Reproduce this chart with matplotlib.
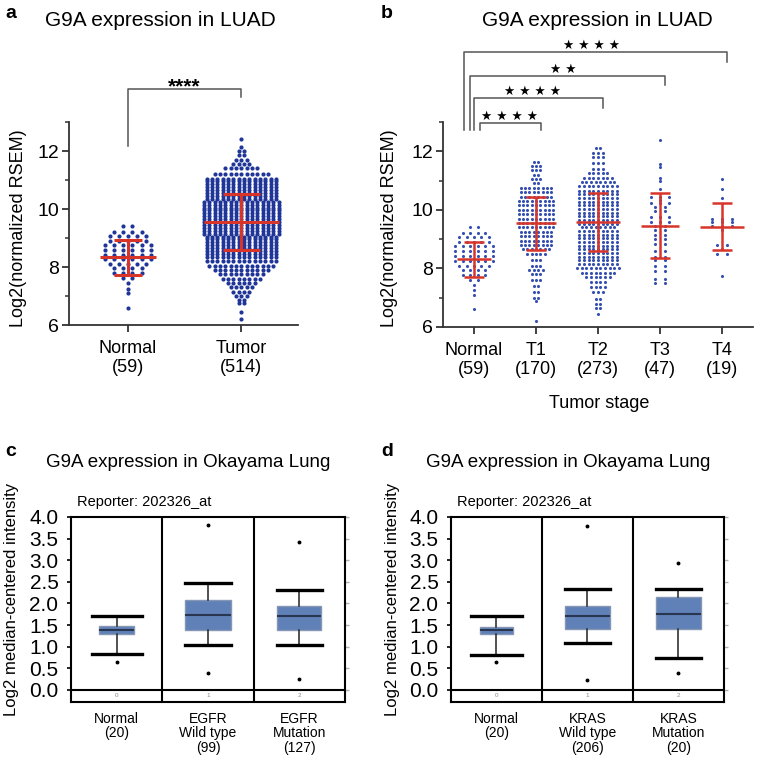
import numpy as np
import matplotlib.pyplot as plt
from matplotlib.ticker import MultipleLocator

plt.rcParams['font.family'] = ['Liberation Sans', 'DejaVu Sans']

W, H = 757, 762

# ---------------- panel a / b : LUAD (rows of dots: level -> count) ----------------
normal_levels = [9.40, 9.22, 9.07, 8.90, 8.75, 8.58, 8.42, 8.27, 8.10, 7.95, 7.78, 7.62, 7.45, 7.25, 7.10, 6.60]
normal_counts = [2, 4, 5, 5, 6, 6, 6, 6, 5, 4, 4, 2, 1, 1, 1, 1]

tumor_levels = [6.20, 6.45, 6.75, 6.85, 7.00, 7.15, 7.30, 7.45, 7.60, 7.75, 7.90, 8.05, 8.20,
                8.35, 8.45, 8.55, 8.65, 8.75, 8.85, 8.95, 9.05, 9.15, 9.25, 9.35, 9.45, 9.55, 9.65,
                9.75, 9.85, 9.95, 10.05, 10.15, 10.25, 10.35, 10.45, 10.55, 10.65, 10.75, 10.85, 10.95, 11.05,
                11.20, 11.40, 11.55, 11.70, 11.85, 12.00, 12.15, 12.40]
tumor_counts = [1, 1, 2, 2, 3, 4, 5, 6, 8, 9, 11, 13, 14,
                14, 14, 14, 14, 14, 14, 14, 14, 15, 15, 15, 15, 15, 15,
                15, 15, 15, 15, 15, 15, 14, 14, 14, 14, 14, 14, 14, 14,
                11, 7, 4, 3, 2, 2, 1, 1]

t1_levels = [6.20, 6.90, 7.00, 7.20, 7.40, 7.60, 7.80, 7.95, 8.10, 8.30, 8.50,
             8.65, 8.80, 8.95, 9.10, 9.25, 9.40, 9.55, 9.70, 9.85, 10.00, 10.15, 10.30, 10.45, 10.60, 10.75,
             10.90, 11.05, 11.20, 11.35, 11.50, 11.62]
t1_counts = [1, 1, 2, 2, 2, 3, 3, 4, 3, 3, 5,
             7, 8, 8, 8, 8, 9, 9, 9, 9, 9, 9, 9, 8, 8, 8,
             2, 3, 2, 3, 3, 2]

t2_levels = [6.45, 6.65, 6.80, 6.95, 7.20, 7.35, 7.55, 7.70, 7.85, 8.00,
             8.15, 8.28, 8.40, 8.53, 8.65, 8.78, 8.90, 9.03, 9.15, 9.28, 9.40, 9.53, 9.65, 9.78, 9.90,
             10.03, 10.15, 10.28, 10.40, 10.53, 10.65,
             10.80, 10.95, 11.10, 11.25, 11.40, 11.60, 11.80, 11.95, 12.10]
t2_counts = [1, 2, 2, 2, 3, 4, 4, 6, 8, 10,
             9, 9, 9, 9, 9, 9, 9, 9, 9, 9, 8, 9, 9, 9, 9,
             9, 9, 9, 9, 9, 9,
             9, 8, 7, 5, 3, 3, 3, 3, 2]

t3_levels = [7.50, 7.65, 7.90, 8.10, 8.30, 8.40, 8.60, 8.85, 9.00, 9.15, 9.30, 9.45, 9.60,
             9.75, 9.95, 10.10, 10.25, 10.35, 10.45, 10.70, 11.00, 11.10, 11.45, 11.55, 12.40]
t3_counts = [2, 2, 2, 2, 2, 2, 2, 2, 2, 2, 2, 2, 3,
             3, 2, 2, 3, 1, 3, 1, 1, 1, 1, 1, 1]

t4_levels = [7.75, 8.50, 8.65, 8.80, 9.30, 9.45, 9.60, 9.70, 10.40, 10.70, 11.05]
t4_counts = [1, 2, 1, 2, 1, 3, 3, 3, 1, 1, 1]

a_labels = ['Normal\n(59)', 'Tumor\n(514)']
a_mean = [8.33, 9.56]
a_sd_hi = [8.92, 10.52]
a_sd_lo = [7.74, 8.59]

b_labels = ['Normal\n(59)', 'T1\n(170)', 'T2\n(273)', 'T3\n(47)', 'T4\n(19)']
b_mean = [8.31, 9.55, 9.57, 9.45, 9.43]
b_sd_hi = [8.89, 10.43, 10.59, 10.59, 10.25]
b_sd_lo = [7.72, 8.64, 8.59, 8.34, 8.62]
b_stars = ['★ ★ ★ ★', '★ ★ ★ ★', '★ ★', '★ ★ ★ ★']

# ---------------- panel c / d : Okayama Lung box plots ----------------
c_labels = ['Normal\n(20)', 'EGFR\nWild type\n(99)', 'EGFR\nMutation\n(127)']
c_med = [1.38, 1.74, 1.71]
c_q1 = [1.30, 1.38, 1.39]
c_q3 = [1.47, 2.08, 1.95]
c_lo = [0.83, 1.03, 1.03]
c_hi = [1.72, 2.47, 2.30]
c_out = [[0.65], [3.82, 0.40], [3.42, 0.25]]

d_labels = ['Normal\n(20)', 'KRAS\nWild type\n(206)', 'KRAS\nMutation\n(20)']
d_med = [1.38, 1.70, 1.76]
d_q1 = [1.30, 1.42, 1.40]
d_q3 = [1.46, 1.95, 2.16]
d_lo = [0.80, 1.09, 0.73]
d_hi = [1.70, 2.34, 2.34]
d_out = [[0.64], [3.79, 0.23], [2.94, 0.38]]

red = '#d8352a'
axis_col = '#333333'


def swarm(center, levels, counts, dx):
    # lay each row of dots out side by side around the group centre
    xs, ys = [], []
    for lv, n in zip(levels, counts):
        for k in range(n):
            xs.append(center + (k - (n - 1) / 2) * dx)
            ys.append(lv)
    return xs, ys


def dot_axes(ax, labels, xlim):
    ax.set_xlim(*xlim)
    ax.set_ylim(6, 13)
    for s in ['top', 'right']:
        ax.spines[s].set_visible(False)
    for s in ['left', 'bottom']:
        ax.spines[s].set_linewidth(1.3)
        ax.spines[s].set_color(axis_col)
    ax.yaxis.set_major_locator(MultipleLocator(2))
    ax.yaxis.set_minor_locator(MultipleLocator(1))
    ax.set_yticks([6, 8, 10, 12])
    ax.set_xticks(range(len(labels)))
    ax.set_xticklabels(labels, fontsize=13, linespacing=1.1)
    ax.tick_params(axis='y', which='major', length=5, width=1.3, color=axis_col, labelsize=14, pad=2)
    ax.tick_params(axis='y', which='minor', length=3, width=1.1, color=axis_col)
    ax.tick_params(axis='x', length=5, width=1.3, color=axis_col, pad=6)


def mean_sd(ax, mean, hi, lo, mw, cw, lw):
    xs = np.arange(len(mean))
    mw = np.asarray(mw)
    cw = np.asarray(cw)
    ax.hlines(mean, xs - mw / 2, xs + mw / 2, color=red, lw=lw, zorder=4)
    ax.vlines(xs, lo, hi, color=red, lw=lw, zorder=4)
    ax.hlines(hi, xs - cw / 2, xs + cw / 2, color=red, lw=lw, zorder=4)
    ax.hlines(lo, xs - cw / 2, xs + cw / 2, color=red, lw=lw, zorder=4)


def bracket(ax, x0, x1, ytop, yl, yr, color='#555555'):
    ax.plot([x0, x0, x1, x1], [yl, ytop, ytop, yr], color=color, lw=1.1, clip_on=False)


fig = plt.figure(figsize=(W / 100, H / 100), dpi=100)

# ---- a ----
axa = fig.add_axes([69 / W, 1 - 325 / H, 229 / W, 203 / H])
dot_axes(axa, a_labels, (-0.52, 1.5))
for i, (lv, ct, dx) in enumerate([(normal_levels, normal_counts, 0.08),
                                  (tumor_levels, tumor_counts, 0.047)]):
    x, y = swarm(i, lv, ct, dx)
    axa.scatter(x, y, s=9, color='#1f3597', linewidths=0, zorder=3)
mean_sd(axa, a_mean, a_sd_hi, a_sd_lo, [0.5, 0.66], [0.24, 0.33], 2.2)
bracket(axa, 0, 1, 14.14, 12.17, 13.86)
axa.text(0.5, 14.22, '****', ha='center', va='center', fontsize=15, fontweight='bold', clip_on=False)

# ---- b ----
axb = fig.add_axes([443 / W, 1 - 327 / H, 310 / W, 205 / H])
dot_axes(axb, b_labels, (-0.5, 4.5))
groups_b = [(normal_levels, normal_counts, 0.12), (t1_levels, t1_counts, 0.07),
            (t2_levels, t2_counts, 0.075), (t3_levels, t3_counts, 0.15), (t4_levels, t4_counts, 0.16)]
for i, (lv, ct, dx) in enumerate(groups_b):
    x, y = swarm(i, lv, ct, dx)
    axb.scatter(x, y, s=5, color='#3550b0', linewidths=0, zorder=3)
mean_sd(axb, b_mean, b_sd_hi, b_sd_lo, [0.55, 0.65, 0.7, 0.62, 0.7], [0.32] * 5, 1.8)
br_left = [0.10, 0.0, -0.06, -0.16]
br_top = [12.97, 13.82, 14.57, 15.39]
br_drop = [12.73, 13.48, 14.26, 15.05]
star_x = [0.58, 0.95, 1.44, 1.9]
for k in range(4):
    bracket(axb, br_left[k], k + 1.08, br_top[k], 12.73, br_drop[k])
    axb.text(star_x[k], br_top[k] + 0.22, b_stars[k], ha='center', va='center', fontsize=9,
             family='DejaVu Sans', clip_on=False)

fig.text(599 / W, 1 - 403 / H, 'Tumor stage', ha='center', va='center', fontsize=13)

for x0 in [19, 389]:
    fig.text(x0 / W, 1 - 228 / H, 'Log2(normalized RSEM)', rotation=90, ha='center', va='center', fontsize=13)
fig.text(160 / W, 1 - 20 / H, 'G9A expression in LUAD', ha='center', va='center', fontsize=15)
fig.text(597 / W, 1 - 20 / H, 'G9A expression in LUAD', ha='center', va='center', fontsize=15)


# ---- c / d ----
def onco(ax, labels, med, q1, q3, lo, hi, out, widths, capw):
    stats = []
    for i in range(3):
        stats.append(dict(med=med[i], q1=q1[i], q3=q3[i], whislo=lo[i], whishi=hi[i], fliers=out[i]))
    ax.bxp(stats, positions=[1, 2, 3], widths=widths, capwidths=capw, patch_artist=True,
           boxprops=dict(facecolor='#5f81b8', edgecolor='#8797b3', lw=1.0),
           medianprops=dict(color='#2a3550', lw=1.5),
           whiskerprops=dict(color='#333333', lw=1.2),
           capprops=dict(color='black', lw=2.4),
           flierprops=dict(marker='o', markersize=1.8, markerfacecolor='black', markeredgecolor='black'))
    ax.set_xlim(0.5, 3.5)
    ax.set_ylim(-0.28, 4.0)
    ax.axvline(1.5, color='black', lw=1.5)
    ax.axvline(2.5, color='black', lw=1.5)
    ax.axhline(0, color='black', lw=1.5)
    for s in ax.spines.values():
        s.set_linewidth(1.5)
        s.set_color('black')
    yt = np.arange(0, 4.01, 0.5)
    ax.set_yticks(yt)
    ax.set_yticklabels(['%.1f' % v for v in yt])
    ax.tick_params(axis='y', length=3, width=1.2, labelsize=15, pad=6)
    ax.set_xticks([1, 2, 3])
    ax.set_xticklabels(labels, fontsize=10, linespacing=1.05)
    ax.tick_params(axis='x', length=0, pad=7)
    sec = ax.secondary_yaxis('right')
    sec.set_yticks(yt)
    sec.tick_params(length=3, width=1, color='#b0b0b0', labelright=False)
    sec.spines['right'].set_visible(False)
    for i in range(3):
        ax.text(i + 1, -0.14, str(i), ha='center', va='center', fontsize=4.5, color='#888888')


axc = fig.add_axes([71 / W, 1 - 702 / H, 274 / W, 185 / H])
onco(axc, c_labels, c_med, c_q1, c_q3, c_lo, c_hi, c_out, [0.38, 0.5, 0.48], [0.55, 0.5, 0.49])
axd = fig.add_axes([451 / W, 1 - 702 / H, 273 / W, 185 / H])
onco(axd, d_labels, d_med, d_q1, d_q3, d_lo, d_hi, d_out, [0.36, 0.49, 0.49], [0.55, 0.5, 0.5])

for x0 in [0, 380]:
    fig.text((x0 + 188) / W, 1 - 463 / H, 'G9A expression in Okayama Lung', ha='center', va='center', fontsize=13.5)
    fig.text((x0 + 77) / W, 1 - 502 / H, 'Reporter: 202326_at', ha='left', va='center', fontsize=10.5)
    fig.text((x0 + 12) / W, 1 - 599 / H, 'Log2 median-centered intensity', rotation=90,
             ha='center', va='center', fontsize=12)

for x0, y0, lab in [(11, 14, 'a'), (387, 14, 'b'), (11, 452, 'c'), (387, 452, 'd')]:
    fig.text(x0 / W, 1 - y0 / H, lab, ha='center', va='center', fontsize=14, fontweight='bold')

fig.savefig('out.png', dpi=100)
